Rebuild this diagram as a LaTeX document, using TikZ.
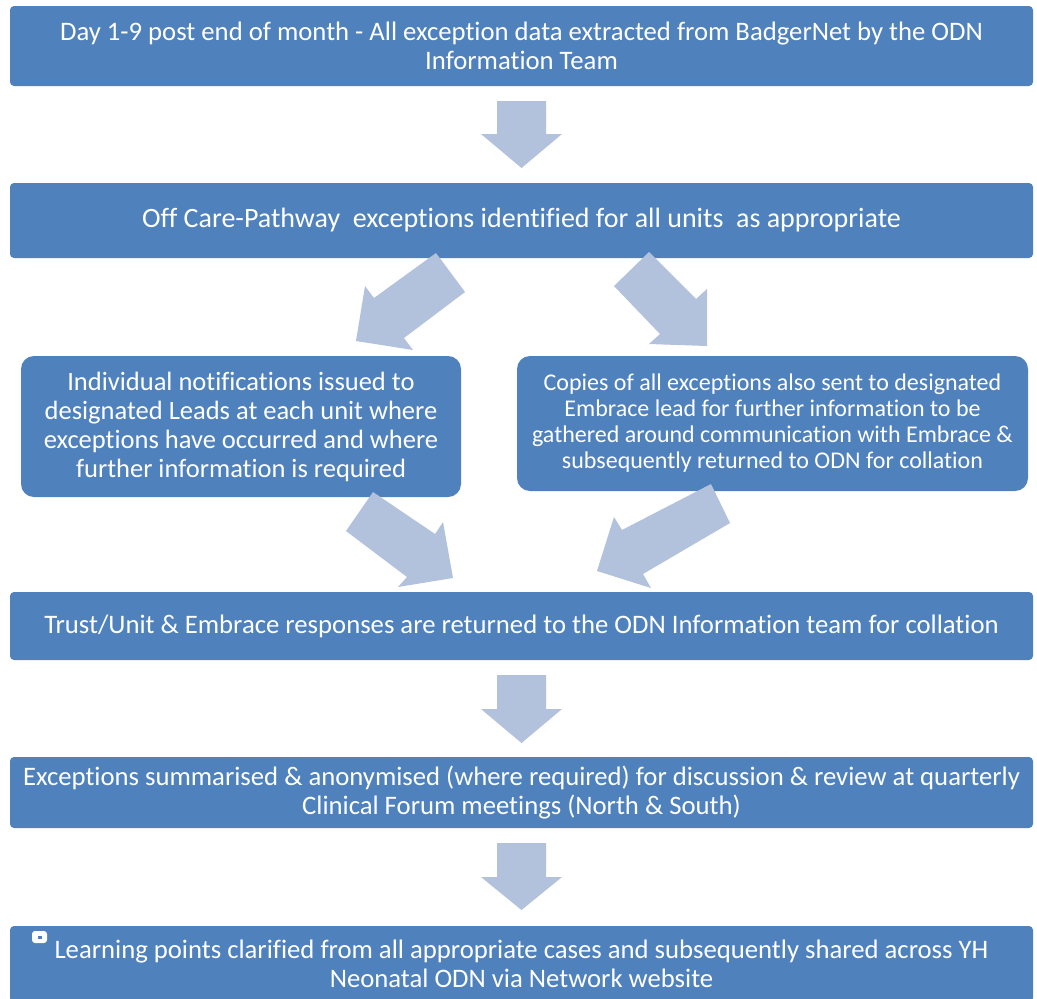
\documentclass[tikz,border=0pt]{standalone}
\usepackage{fontspec}
\setmainfont{Carlito}[Ligatures=NoCommon]
\definecolor{boxblue}{RGB}{79,129,189}
\definecolor{arrowblue}{RGB}{178,193,220}
\begin{document}
\begin{tikzpicture}[x=1pt,y=-1pt,
  box/.style={fill=boxblue, draw=none, rounded corners=4pt, inner sep=0pt,
    text=white, align=center, font=\fontsize{26.7}{29}\selectfont},
  roundbox/.style={box, rounded corners=13pt},
  blockarrow/.style={fill=arrowblue, draw=none}]
\useasboundingbox (0,0) rectangle (1037,999);
\fill[white] (0,0) rectangle (1037,999);

\node[box, minimum width=1023pt, minimum height=80pt] (b1) at (521.5,46)
  {Day 1-9 post end of month - All exception data extracted from BadgerNet by the ODN\\Information Team};
\node[box, minimum width=1023pt, minimum height=75pt, font=\fontsize{28}{29}\selectfont] (b2) at (521.5,220.5)
  {Off Care-Pathway\ \ exceptions identified for all units\ \ as appropriate};
\node[roundbox, minimum width=440pt, minimum height=141pt, font=\fontsize{26.5}{29}\selectfont] (b3l) at (241,426.5)
  {Individual notifications issued to\\designated Leads at each unit where\\exceptions have occurred and where\\further information is required};
\node[roundbox, minimum width=511pt, minimum height=135pt, font=\fontsize{24}{26}\selectfont] (b3r) at (772.5,423.5)
  {Copies of all exceptions also sent to designated\\Embrace lead for further information to be\\gathered around communication with Embrace \&\\subsequently returned to ODN for collation};
\node[box, minimum width=1023pt, minimum height=68pt] (b4) at (521.5,626)
  {Trust/Unit \& Embrace responses are returned to the ODN Information team for collation};
\node[box, minimum width=1023pt, minimum height=71pt] (b5) at (521.5,792.5)
  {Exceptions summarised \& anonymised (where required) for discussion \& review at quarterly\\Clinical Forum meetings (North \& South)};
\node[box, minimum width=1023pt, minimum height=76pt] (b6) at (521.5,964)
  {Learning points clarified from all appropriate cases and subsequently shared across YH\\Neonatal ODN via Network website};
\fill[white, rounded corners=3pt] (32,931) rectangle (47,943);
\fill[boxblue] (38,936) rectangle (42,939);

% block arrows
\fill[blockarrow] (497,101) -- (546,101) -- (546,134) -- (562,134) -- (521.5,168) -- (481,134) -- (497,134) -- cycle;
\fill[blockarrow] (436,253) -- (465,292) -- (404,338) -- (413,350) -- (356,341) -- (365,286) -- (374,298) -- cycle;
\fill[blockarrow] (649,252) -- (614,286) -- (660,334) -- (649,344) -- (707,346) -- (707,289) -- (696,299) -- cycle;
\fill[blockarrow] (373,492) -- (346,531) -- (407,577) -- (398,587) -- (453,578) -- (443,522) -- (435,534) -- cycle;
\fill[blockarrow] (711,484) -- (730,523) -- (643,574) -- (651,588) -- (597,571) -- (614,517) -- (622,530) -- cycle;
\fill[blockarrow] (497,675) -- (546,675) -- (546,709) -- (562,709) -- (521.5,743) -- (481,709) -- (497,709) -- cycle;
\fill[blockarrow] (497,843) -- (546,843) -- (546,877) -- (562,877) -- (521.5,910) -- (481,877) -- (497,877) -- cycle;
\end{tikzpicture}
\end{document}
